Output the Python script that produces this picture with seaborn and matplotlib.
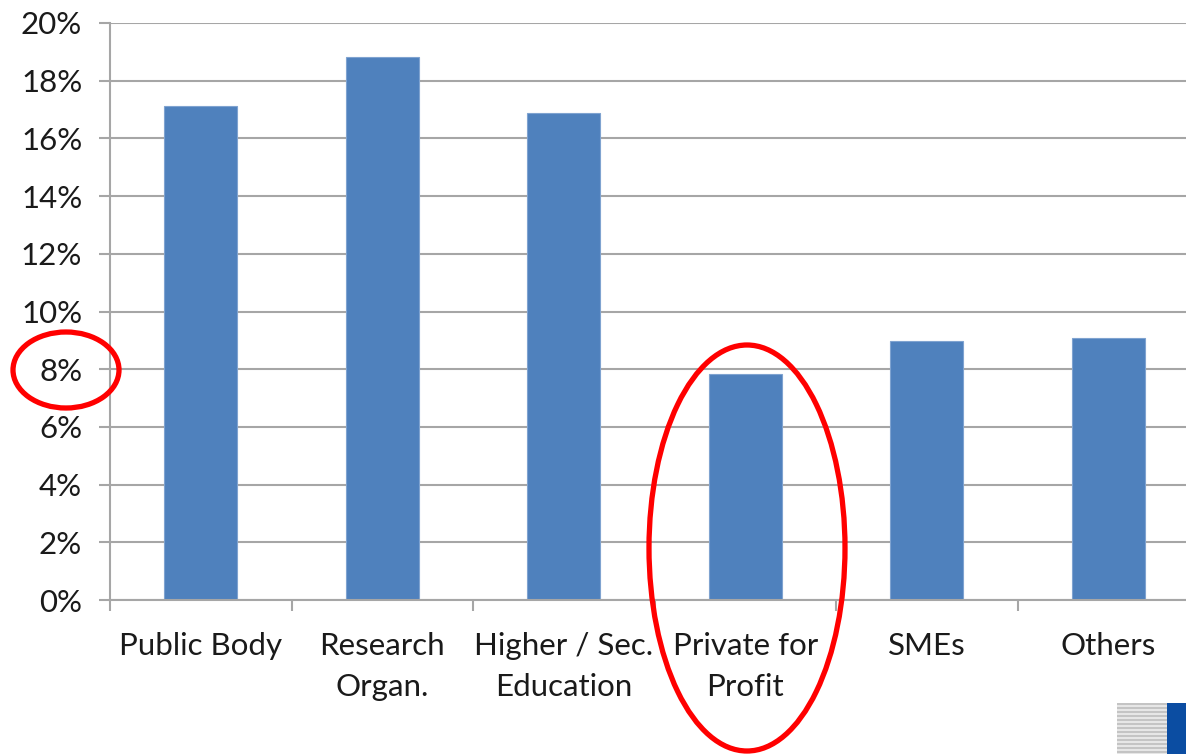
import matplotlib
matplotlib.use("Agg")
import matplotlib.pyplot as plt
import seaborn as sns
import pandas as pd
import numpy as np
from matplotlib.patches import Ellipse, Rectangle
from matplotlib.ticker import PercentFormatter, FixedLocator

categories = ["Public Body", "Research\nOrgan.", "Higher / Sec.\nEducation",
              "Private for\nProfit", "SMEs", "Others"]
shares = [0.1712, 0.1882, 0.1688, 0.0782, 0.0898, 0.0907]
y_ticks = [0.00, 0.02, 0.04, 0.06, 0.08, 0.10, 0.12, 0.14, 0.16, 0.18, 0.20]

sns.set_theme(style="white")
plt.rcParams['font.family'] = ['Lato', 'DejaVu Sans']

W, H = 1186, 754
fig = plt.figure(figsize=(W / 100, H / 100), dpi=100)
ax = fig.add_axes([110 / W, 154 / H, 1089 / W, 577 / H])

df = pd.DataFrame({"cat": categories, "share": shares})
sns.barplot(data=df, x="cat", y="share", color="#4F81BD", saturation=1,
            width=0.4, ax=ax, edgecolor="#7FA3D0", linewidth=0.8)

ax.set_ylim(0, 0.20)
ax.set_xlim(-0.5, len(categories) - 0.5)
ax.yaxis.set_major_locator(FixedLocator(y_ticks))
ax.yaxis.set_major_formatter(PercentFormatter(1.0, decimals=0))
ax.grid(axis="y", color="#A6A6A6", linewidth=1.5)
ax.set_axisbelow(True)
ax.set_xlabel("")
ax.set_ylabel("")

for s in ["top", "right"]:
    ax.spines[s].set_visible(False)
for s in ["left", "bottom"]:
    ax.spines[s].set_color("#A6A6A6")
    ax.spines[s].set_linewidth(1.5)

ax.tick_params(axis="y", which="major", left=True, length=8, width=1.5,
               color="#A6A6A6", labelsize=22.5, labelcolor="#1a1a1a", pad=12)
ax.tick_params(axis="x", which="major", bottom=False, length=0,
               labelsize=22.5, labelcolor="#1a1a1a", pad=23)
ax.set_xticks(np.arange(-0.5, len(categories) + 0.5, 1.0), minor=True)
ax.tick_params(axis="x", which="minor", bottom=True, length=8, width=1.5,
               color="#A6A6A6")
for lab in ax.get_xticklabels():
    lab.set_linespacing(1.55)
    lab.set_verticalalignment("top")

# red annotation ellipses (figure pixel coordinates, y from top)
def fig_ellipse(cx, cy, w, h):
    e = Ellipse((cx / W, 1 - cy / H), w / W, h / H, transform=fig.transFigure,
                fill=False, edgecolor="#FF0000", linewidth=3.8, clip_on=False)
    fig.add_artist(e)

fig_ellipse(66, 370, 106, 76)
fig_ellipse(747, 548, 196, 406)

# corner logo fragment
ystart = 703
fig.add_artist(Rectangle((1117 / W, 0), 50 / W, (H - ystart) / H,
                         transform=fig.transFigure, color="#E6E6E6", lw=0))
for i in range(0, 51, 4):
    fig.add_artist(Rectangle((1117 / W, 1 - (ystart + i + 2) / H), 50 / W, 2 / H,
                             transform=fig.transFigure, color="#C4C4C4", lw=0))
fig.add_artist(Rectangle((1167 / W, 0), 19 / W, (H - ystart) / H,
                         transform=fig.transFigure, color="#0B4DA2", lw=0))

fig.savefig("out.png", dpi=100)
